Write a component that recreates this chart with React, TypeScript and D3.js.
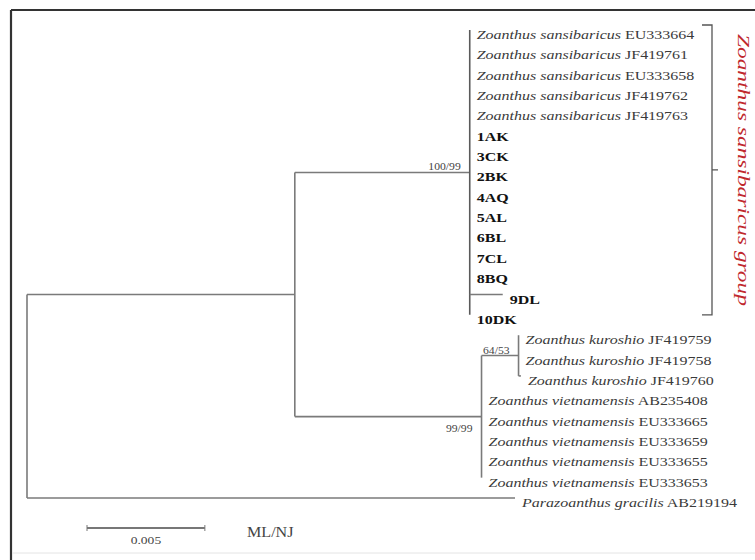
import React from "react";
import * as d3 from "d3";

// leaf labels, top to bottom
const sansibaricusAcc = ["EU333664", "JF419761", "EU333658", "JF419762", "JF419763"];
const isolates = ["1AK", "3CK", "2BK", "4AQ", "5AL", "6BL", "7CL", "8BQ", "9DL", "10DK"];
const isolateLen = [0, 0, 0, 0, 0, 0, 0, 0, 0.0014, 0];
const kuroshioAcc = ["JF419759", "JF419758", "JF419760"];
const kuroshioLen = [0, 0, 0.0001];
const vietnamensisAcc = ["AB235408", "EU333665", "EU333659", "EU333655", "EU333653"];
const outgroupAcc = "AB219194";

// internal branch lengths (substitutions/site)
const ingroupLen = 0.01136;
const sansCladeLen = 0.00742;
const vkCladeLen = 0.00792;
const kuroCladeLen = 0.00157;
const outgroupLen = 0.0207;

// bootstrap ML/NJ
const supportSans = "100/99";
const supportVK = "99/99";
const supportKuro = "64/53";

const scaleBarValue = 0.005;
const groupLabel = "Zoanthus sansibaricus group";

type N = {
  name: string;
  len: number;
  genus?: string;
  species?: string;
  acc?: string;
  bold?: boolean;
  support?: string;
  below?: boolean;
  children?: N[];
};

const tree: N = {
  name: "root",
  len: 0,
  children: [
    {
      name: "ingroup",
      len: ingroupLen,
      children: [
        {
          name: "sans",
          len: sansCladeLen,
          support: supportSans,
          children: [
            ...sansibaricusAcc.map((a) => ({
              name: a, len: 0, genus: "Zoanthus", species: "sansibaricus", acc: a,
            })),
            ...isolates.map((s, i) => ({ name: s, len: isolateLen[i], bold: true })),
          ],
        },
        {
          name: "vk",
          len: vkCladeLen,
          support: supportVK,
          below: true,
          children: [
            {
              name: "kuro",
              len: kuroCladeLen,
              support: supportKuro,
              children: kuroshioAcc.map((a, i) => ({
                name: a, len: kuroshioLen[i], genus: "Zoanthus", species: "kuroshio", acc: a,
              })),
            },
            ...vietnamensisAcc.map((a) => ({
              name: a, len: 0, genus: "Zoanthus", species: "vietnamensis", acc: a,
            })),
          ],
        },
      ],
    },
    { name: outgroupAcc, len: outgroupLen, genus: "Parazoanthus", species: "gracilis", acc: outgroupAcc },
  ],
};

const W = 755;
const H = 560;
const SX = 1.23; // horizontal stretch of the original lettering
const FONT = "'Liberation Serif', 'Times New Roman', serif";
const LINE = "#7a7a7a";

export default function App() {
  const root = d3.hierarchy<N>(tree);
  const leaves = root.leaves();

  // x: cumulative branch length
  const dist = new Map<any, number>();
  root.each((n) => {
    dist.set(n, n.parent ? (dist.get(n.parent) as number) + n.data.len : 0);
  });
  const x = d3.scaleLinear().domain([0, outgroupLen]).range([27, 515]);

  // y: leaves evenly spaced, internal nodes midway between first and last child
  const yLeaf = d3.scalePoint<string>().domain(leaves.map((l) => l.data.name)).range([30, 498]);
  const ypos = new Map<any, number>();
  root.eachAfter((n) => {
    if (!n.children) ypos.set(n, yLeaf(n.data.name) as number);
    else {
      const c = n.children;
      ypos.set(n, ((ypos.get(c[0]) as number) + (ypos.get(c[c.length - 1]) as number)) / 2);
    }
  });
  const X = (n: any) => x(dist.get(n) as number);
  const Y = (n: any) => ypos.get(n) as number;

  const nodes = root.descendants();
  const sansNode = nodes.find((n) => n.data.name === "sans")!;
  const bTop = Y(sansNode.children![0]) - 5;
  const bBot = Y(sansNode.children![sansNode.children!.length - 1]);
  const bMid = (bTop + bBot) / 2;
  const bx = 712;

  const barPx = x(scaleBarValue) - x(0);
  const barX0 = 87;
  const barY = 528;

  return (
    <svg width={W} height={H} style={{ position: "absolute", left: 0, top: 0, background: "#fff" }} fontFamily={FONT}>
      {/* frame */}
      <line x1={11} y1={10} x2={W} y2={10} stroke="#333" strokeWidth={2.2} />
      <line x1={11} y1={10} x2={11} y2={H} stroke="#333" strokeWidth={2.2} />
      <line x1={12} y1={553} x2={W} y2={553} stroke="#e4e4e4" strokeWidth={1} />

      {/* branches */}
      {nodes.map((n, i) => (
        <g key={`b${i}`}>
          {n.parent && (
            <line x1={X(n.parent)} x2={X(n)} y1={Y(n)} y2={Y(n)} stroke={LINE} strokeWidth={1.6} />
          )}
          {n.children && (
            <line
              x1={X(n)} x2={X(n)}
              y1={Y(n.children[0])} y2={Y(n.children[n.children.length - 1])}
              stroke={n.data.name === "sans" ? "#5a5a5a" : LINE}
              strokeWidth={1.6}
            />
          )}
        </g>
      ))}

      {/* bootstrap values */}
      {nodes.filter((n) => n.data.support).map((n, i) => (
        <text
          key={`s${i}`}
          transform={`translate(${X(n) - 9},${n.data.below ? Y(n) + 15 : Y(n) - 2}) scale(${SX},1)`}
          textAnchor="end"
          fontSize={9.5}
          fill="#444"
        >
          {n.data.support}
        </text>
      ))}

      {/* leaf labels */}
      {leaves.map((l, i) => (
        <text
          key={`l${i}`}
          transform={`translate(${X(l) + 7},${Y(l) + 9}) scale(${SX},1)`}
          fontSize={13}
          fill={l.data.bold ? "#111" : "#3a3a3a"}
          fontWeight={l.data.bold ? "bold" : "normal"}
        >
          {l.data.bold ? (
            l.data.name
          ) : (
            <>
              <tspan fontStyle="italic">{`${l.data.genus} ${l.data.species}`}</tspan>
              <tspan>{` ${l.data.acc}`}</tspan>
            </>
          )}
        </text>
      ))}

      {/* group bracket */}
      <path
        d={`M${bx - 10},${bTop} L${bx},${bTop} L${bx},${bBot} L${bx - 10},${bBot} M${bx},${bMid} L${bx + 6},${bMid}`}
        fill="none"
        stroke="#555"
        strokeWidth={1.3}
      />
      <text
        transform={`translate(738,${bMid}) rotate(90)`}
        textAnchor="middle"
        fontSize={16}
        fontStyle="italic"
        fill="#c0282d"
        textLength={272}
        lengthAdjust="spacingAndGlyphs"
      >
        {groupLabel}
      </text>

      {/* scale bar */}
      <line x1={barX0} x2={barX0 + barPx} y1={barY} y2={barY} stroke="#777" strokeWidth={2} />
      <line x1={barX0} x2={barX0} y1={barY - 3} y2={barY + 3} stroke="#777" strokeWidth={1} />
      <line x1={barX0 + barPx} x2={barX0 + barPx} y1={barY - 3} y2={barY + 3} stroke="#777" strokeWidth={1} />
      <text
        transform={`translate(${barX0 + barPx / 2},${barY + 16}) scale(${SX},1)`}
        textAnchor="middle"
        fontSize={11}
        fill="#444"
      >
        {scaleBarValue.toFixed(3)}
      </text>
      <text transform={`translate(247,${barY + 9}) scale(1.15,1)`} fontSize={14} fill="#444">
        ML/NJ
      </text>
    </svg>
  );
}
